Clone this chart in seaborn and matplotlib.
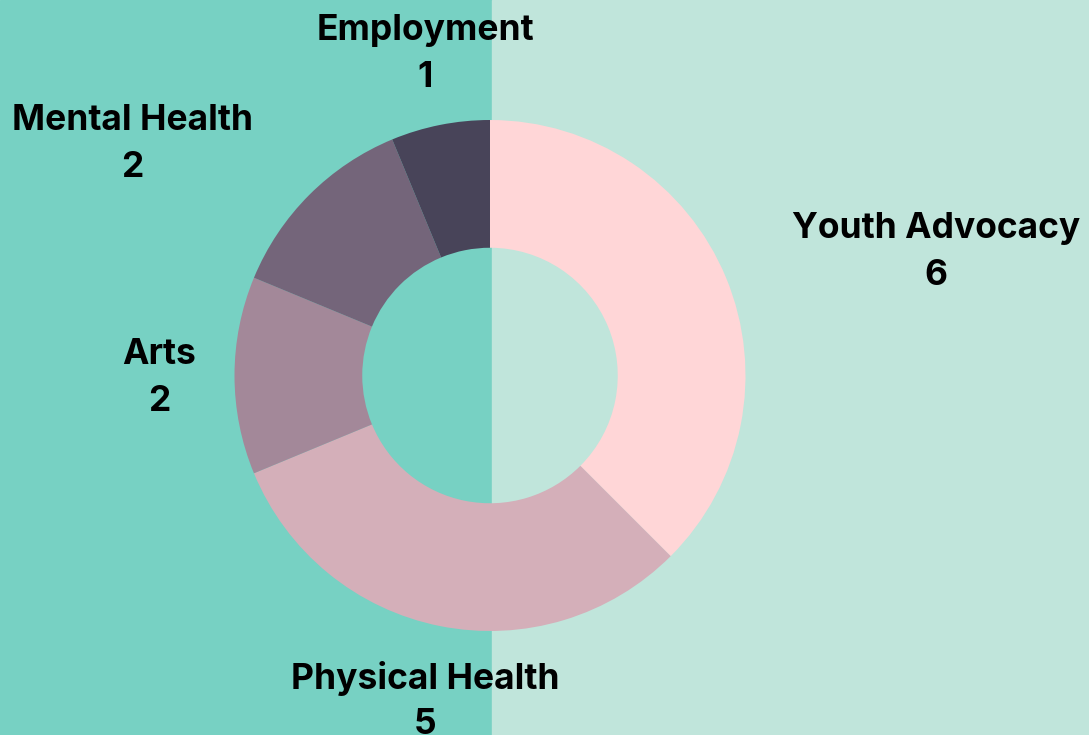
import matplotlib
matplotlib.use("Agg")
import matplotlib.pyplot as plt
import seaborn as sns
from matplotlib.patches import Rectangle

categories = ["Youth Advocacy", "Physical Health", "Arts", "Mental Health", "Employment"]
values = [6, 5, 2, 2, 1]
colors = ["#FFD6D7", "#D4AFB9", "#A38899", "#74657A", "#484459"]

sns.set_style("white")
plt.rcParams['font.family'] = ['Inter', 'DejaVu Sans']

W, H = 1089, 735
fig = plt.figure(figsize=(W / 100, H / 100), dpi=100)
ax = fig.add_axes([0, 0, 1, 1])
ax.set_xlim(0, W)
ax.set_ylim(0, H)
ax.axis("off")

# split background
ax.add_patch(Rectangle((0, 0), 492, H, color="#77D1C3", zorder=0))
ax.add_patch(Rectangle((492, 0), W - 492, H, color="#C0E5DB", zorder=0))

cx, cy, r = 490, H - 375.5, 255.5
ax.pie(values, colors=colors, startangle=90, counterclock=False,
       center=(cx, cy), radius=r, frame=True,
       wedgeprops=dict(width=r * 0.5, linewidth=0))
ax.set_xlim(0, W)
ax.set_ylim(0, H)
ax.set_aspect("equal")
ax.axis("off")

label_pos = {
    "Employment": (425, 30),
    "Mental Health": (132, 120),
    "Youth Advocacy": (936, 228),
    "Arts": (159, 354),
    "Physical Health": (425, 678),
}
for cat, v in zip(categories, values):
    x, y = label_pos[cat]
    ax.text(x, H - y, cat, ha="center", va="center", fontsize=25.5,
            fontweight="bold", color="black")
    ax.text(x, H - y - 47, str(v), ha="center", va="center", fontsize=25.5,
            fontweight="bold", color="black")

fig.savefig("out.png", dpi=100)
